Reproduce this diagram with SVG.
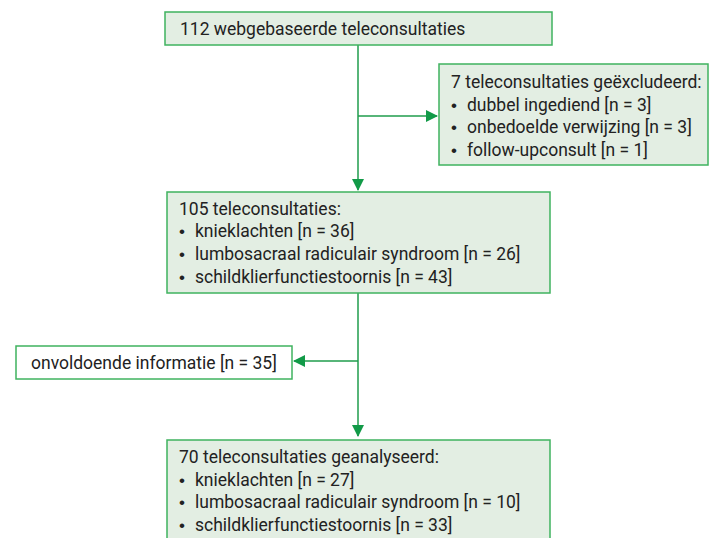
<svg xmlns="http://www.w3.org/2000/svg" width="718" height="538" viewBox="0 0 718 538">
<style>
.box{fill:#e3eee3;stroke:#3fb35f;stroke-width:1.5}
.wbox{fill:#ffffff;stroke:#3fb35f;stroke-width:1.5}
.t{font-family:"Roboto","Liberation Sans",sans-serif;font-size:17.5px;fill:#222}
.b{font-family:"Liberation Sans",sans-serif;font-size:17px;fill:#222}
.ln{stroke:#1f9d4c;stroke-width:1.5;fill:none}
</style>
<defs>
<marker id="ah" markerWidth="12" markerHeight="12" refX="11" refY="6" orient="auto" markerUnits="userSpaceOnUse" viewBox="0 0 12 12">
<path d="M0,0 L12,6 L0,12 z" fill="#129a48"/>
</marker>
</defs>
<g id="connectors">
<line class="ln" x1="358" y1="45" x2="358" y2="190" marker-end="url(#ah)"/>
<line class="ln" x1="358" y1="116" x2="437" y2="116" marker-end="url(#ah)"/>
<line class="ln" x1="358" y1="293" x2="358" y2="436" marker-end="url(#ah)"/>
<line class="ln" x1="358" y1="361" x2="294" y2="361" marker-end="url(#ah)"/>
</g>
<g id="n1">
<rect class="box" x="165" y="12" width="387" height="33"/>
<text class="t" x="180" y="35">112 webgebaseerde teleconsultaties</text>
</g>
<g id="n2">
<rect class="box" x="439" y="64" width="269" height="101"/>
<text class="t" x="451" y="88">7 teleconsultaties geëxcludeerd:</text>
<text class="b" x="451" y="111">•</text><text class="t" x="467" y="111">dubbel ingediend [n = 3]</text>
<text class="b" x="451" y="133">•</text><text class="t" x="467" y="133">onbedoelde verwijzing [n = 3]</text>
<text class="b" x="451" y="156">•</text><text class="t" x="467" y="156">follow-upconsult [n = 1]</text>
</g>
<g id="n3">
<rect class="box" x="167" y="192" width="383" height="101"/>
<text class="t" x="179" y="215">105 teleconsultaties:</text>
<text class="b" x="179" y="237">•</text><text class="t" x="195" y="237">knieklachten [n = 36]</text>
<text class="b" x="179" y="260">•</text><text class="t" x="195" y="260">lumbosacraal radiculair syndroom [n = 26]</text>
<text class="b" x="179" y="283">•</text><text class="t" x="195" y="283">schildklierfunctiestoornis [n = 43]</text>
</g>
<g id="n4">
<rect class="wbox" x="16" y="346" width="276" height="33"/>
<text class="t" x="31" y="369">onvoldoende informatie [n = 35]</text>
</g>
<g id="n5">
<rect class="box" x="167" y="440" width="383" height="110"/>
<text class="t" x="179" y="463">70 teleconsultaties geanalyseerd:</text>
<text class="b" x="179" y="486">•</text><text class="t" x="195" y="486">knieklachten [n = 27]</text>
<text class="b" x="179" y="508">•</text><text class="t" x="195" y="508">lumbosacraal radiculair syndroom [n = 10]</text>
<text class="b" x="179" y="531">•</text><text class="t" x="195" y="531">schildklierfunctiestoornis [n = 33]</text>
</g>
</svg>
